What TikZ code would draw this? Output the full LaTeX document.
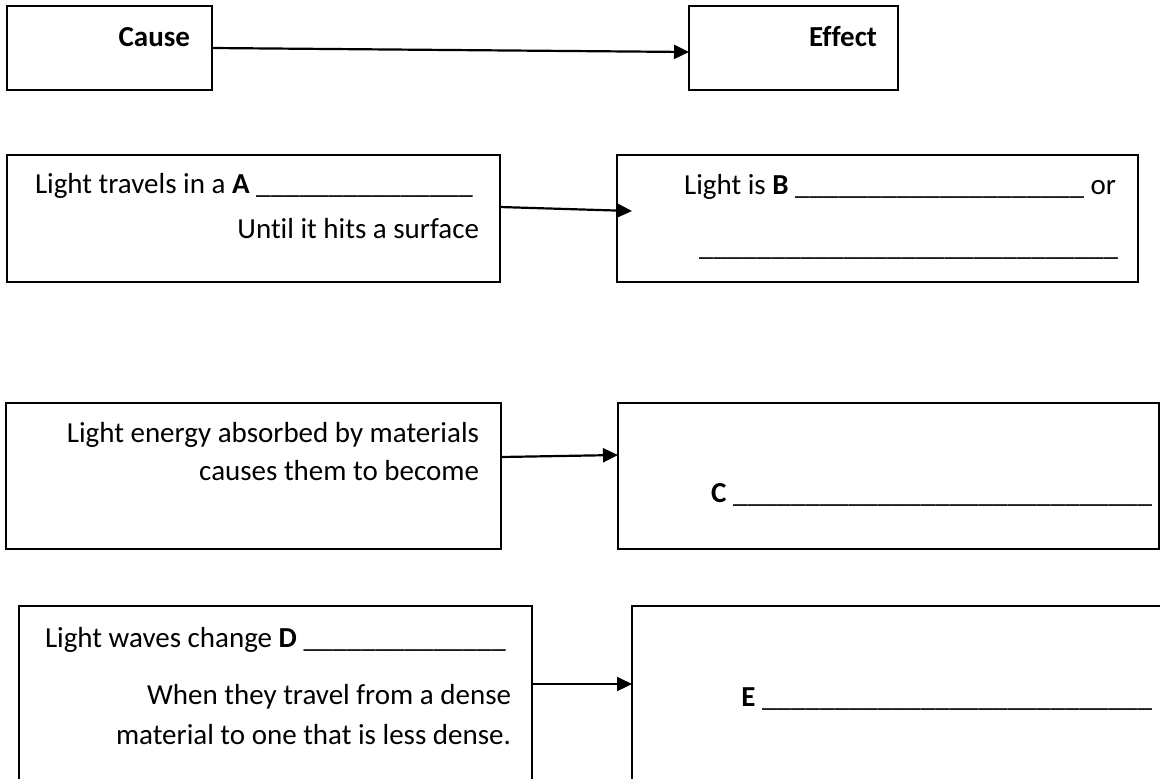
\documentclass[tikz,border=0pt]{standalone}
\usepackage{fontspec}
\setmainfont{Carlito}[Ligatures=NoCommon]
\usepackage{tikz}
\usetikzlibrary{positioning,calc,arrows.meta}

\begin{document}
\begin{tikzpicture}[
    x=0.5pt, y=-0.5pt,
    % Style definitions
    box/.style={rectangle, draw, line width=1pt, anchor=north west, inner sep=0pt, outer sep=0pt},
    txt/.style={inner sep=0pt, outer sep=0pt, font=\fontsize{14.5}{17}\selectfont},
    arrow/.style={-{Triangle[length=7.5pt,width=7pt]}, line width=1.1pt, color=black}
]

% Page area
\fill[white] (0,0) rectangle (1160,778);
\clip (0,0) rectangle (1160,778);

% Row 1: headings
\node[box, minimum width=102.5pt, minimum height=42pt] (cause) at (7,6) {};
\node[box, minimum width=104.5pt, minimum height=42pt] (effect) at (689,6) {};
\node[txt, anchor=base east] (causetxt) at (190,46) {\textbf{Cause}};
\node[txt, anchor=base east] (effecttxt) at (877,46) {\textbf{Effect}};

% Row 2: straight line
\node[box, minimum width=246.5pt, minimum height=63.5pt] (travel) at (7,155) {};
\node[box, minimum width=260.5pt, minimum height=63.5pt] (reflect) at (617,155) {};
\node[txt, anchor=base west] (travelA) at (35,193) {Light travels in a \textbf{A} \_\_\_\_\_\_\_\_\_\_\_\_\_\_\_};
\node[txt, anchor=base east] (travelB) at (479,238) {Until it hits a surface};
\node[txt, anchor=base east] (reflectA) at (1116,194) {Light is \textbf{B} \_\_\_\_\_\_\_\_\_\_\_\_\_\_\_\_\_\_\_\_ or};
\node[txt, anchor=base east] (reflectB) at (1118,255) {\_\_\_\_\_\_\_\_\_\_\_\_\_\_\_\_\_\_\_\_\_\_\_\_\_\_\_\_\_};

% Row 3: absorption
\node[box, minimum width=247.5pt, minimum height=73pt] (absorb) at (6,403) {};
\node[box, minimum width=270.5pt, minimum height=73pt] (warm) at (618,403) {};
\node[txt, anchor=base east] (absorbA) at (479,442) {Light energy absorbed by materials};
\node[txt, anchor=base east] (absorbB) at (479,480) {causes them to become};
\node[txt, anchor=base east] (warmA) at (1152,502) {\textbf{C} \_\_\_\_\_\_\_\_\_\_\_\_\_\_\_\_\_\_\_\_\_\_\_\_\_\_\_\_\_};

% Row 4: refraction
\node[box, minimum width=256.5pt, minimum height=97pt] (refract) at (19,606) {};
\node[box, minimum width=271.5pt, minimum height=97pt] (bend) at (632,606) {};
\node[txt, anchor=base west] (refractA) at (45,647) {Light waves change \textbf{D} \_\_\_\_\_\_\_\_\_\_\_\_\_\_};
\node[txt, anchor=base east] (refractB) at (511,704) {When they travel from a dense};
\node[txt, anchor=base east] (refractC) at (511,744) {material to one that is less dense.};
\node[txt, anchor=base east] (bendA) at (1152,706) {\textbf{E} \_\_\_\_\_\_\_\_\_\_\_\_\_\_\_\_\_\_\_\_\_\_\_\_\_\_\_};

% Connections
\draw[arrow] (cause.east) -- ([yshift=-2pt]effect.west);
\draw[arrow] ([yshift=5.75pt]travel.east) -- ([xshift=7.5pt,yshift=3.75pt]reflect.west);
\draw[arrow] ([yshift=9.5pt]absorb.east) -- ([yshift=10.5pt]warm.west);
\draw[arrow] ([yshift=9.5pt]refract.east) -- ([yshift=9.5pt]bend.west);

\end{tikzpicture}
\end{document}
